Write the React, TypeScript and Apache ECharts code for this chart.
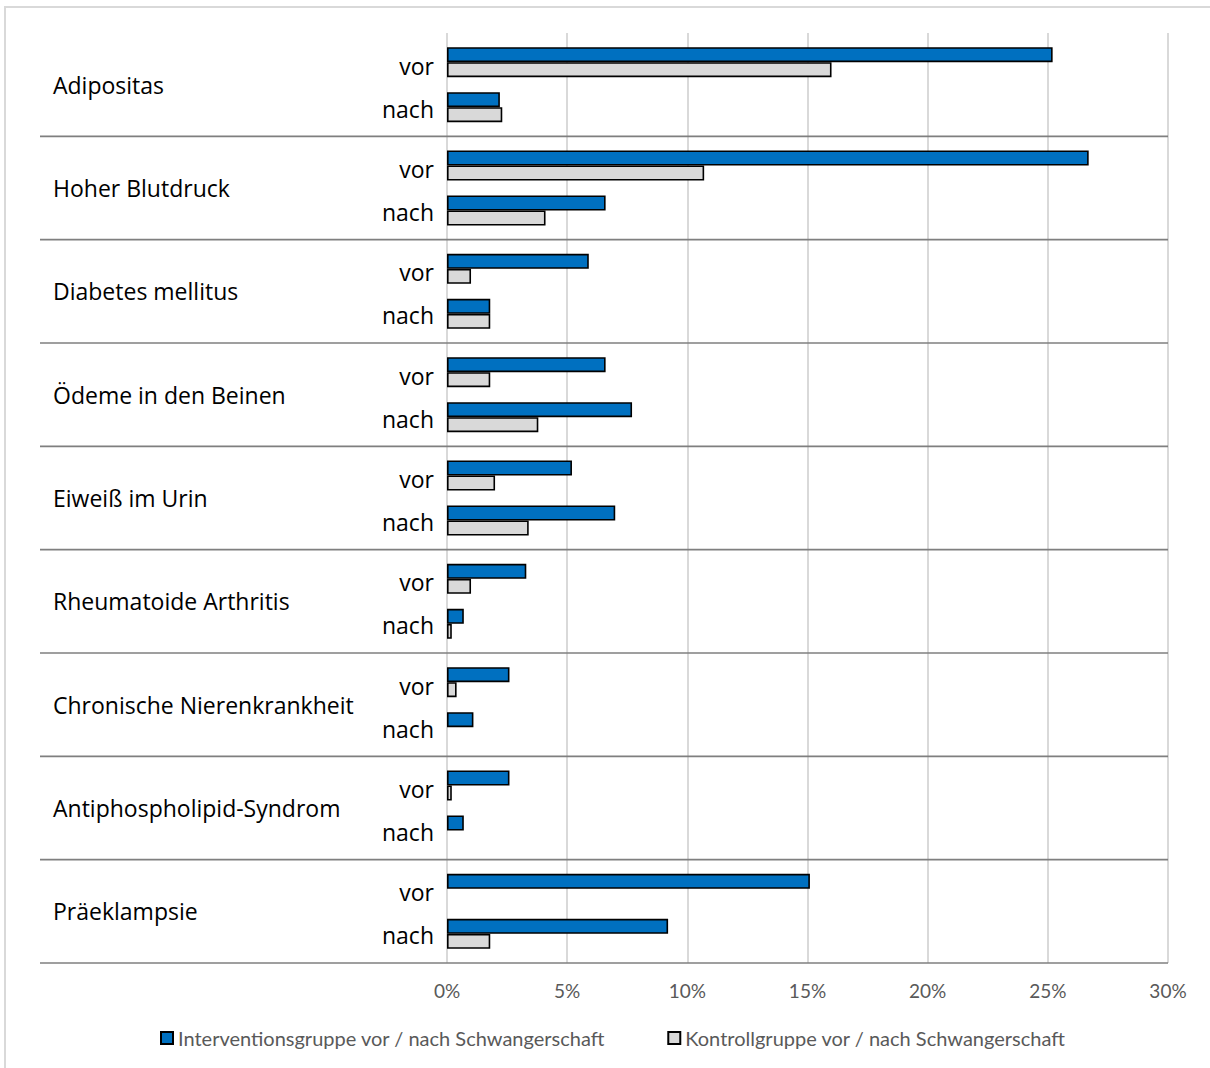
import React, { useEffect, useRef } from "react";
import * as echarts from "echarts";

const groups = [
  "Adipositas",
  "Hoher Blutdruck",
  "Diabetes mellitus",
  "Ödeme in den Beinen",
  "Eiweiß im Urin",
  "Rheumatoide Arthritis",
  "Chronische Nierenkrankheit",
  "Antiphospholipid-Syndrom",
  "Präeklampsie",
];
const phaseLabels = ["vor", "nach"];
// per group: intervention / control, before and after pregnancy (%)
const interventionVor = [25.2, 26.7, 5.9, 6.6, 5.2, 3.3, 2.6, 2.6, 15.1];
const kontrollVor = [16.0, 10.7, 1.0, 1.8, 2.0, 1.0, 0.4, 0.2, 0];
const interventionNach = [2.2, 6.6, 1.8, 7.7, 7.0, 0.7, 1.1, 0.7, 9.2];
const kontrollNach = [2.3, 4.1, 1.8, 3.8, 3.4, 0.2, 0, 0, 1.8];
const seriesNames = [
  "Interventionsgruppe vor / nach Schwangerschaft",
  "Kontrollgruppe vor / nach Schwangerschaft",
];
const xMin = 0;
const xMax = 30;
const xInterval = 5;

const FONT = "'Open Sans', 'Noto Sans', sans-serif";
const LEGEND_FONT = "Lato, 'Noto Sans', sans-serif";

const toItems = (arr: number[]) =>
  arr.map((v) => (v === 0 ? { value: 0, itemStyle: { borderWidth: 0 } } : v));

export default function App() {
  const ref = useRef<HTMLDivElement>(null);
  useEffect(() => {
    document.body.style.margin = "0";
    const chart = echarts.init(ref.current!, undefined, { renderer: "svg" });
    const blueStyle = { color: "#0070c0", borderColor: "#000000", borderWidth: 1.6 };
    const greyStyle = { color: "#d9d9d9", borderColor: "#000000", borderWidth: 1.6 };
    const phaseLabel = (text: string, dy: number) => ({
      show: true,
      position: "left",
      distance: 13,
      offset: [0, dy],
      formatter: () => text,
      color: "#000000",
      fontSize: 23,
      fontFamily: FONT,
    });
    const option: any = {
      animation: false,
      backgroundColor: "#ffffff",
      textStyle: { fontFamily: FONT },
      grid: { left: 447, right: 42, top: 33, height: 930, containLabel: false },
      legend: {
        left: 155,
        top: 1023,
        itemWidth: 12,
        itemHeight: 12,
        itemGap: 62,
        icon: "rect",
        textStyle: { fontSize: 20, color: "#595959", fontFamily: LEGEND_FONT },
        data: seriesNames,
      },
      xAxis: {
        type: "value",
        min: xMin,
        max: xMax,
        interval: xInterval,
        axisLine: { show: false },
        axisTick: { show: false },
        axisLabel: {
          formatter: (v: number) => v + "%",
          color: "#595959",
          fontSize: 19,
          fontFamily: LEGEND_FONT,
          margin: 18,
        },
        splitLine: { show: true, lineStyle: { color: "#d9d9d9", width: 2 } },
      },
      yAxis: {
        type: "category",
        inverse: true,
        data: groups,
        axisLine: { show: false },
        axisTick: { show: false },
        axisLabel: {
          align: "left",
          color: "#000000",
          fontSize: 23,
          fontFamily: FONT,
          margin: 394,
        },
      },
      series: [
        {
          name: seriesNames[0],
          type: "bar",
          data: toItems(interventionVor),
          barWidth: 15,
          barGap: "0%",
          itemStyle: blueStyle,
        },
        {
          name: seriesNames[1],
          type: "bar",
          data: toItems(kontrollVor),
          barWidth: 15,
          barGap: "0%",
          itemStyle: greyStyle,
          label: phaseLabel(phaseLabels[0], -4),
        },
        {
          name: "spacer",
          type: "bar",
          data: [],
          barWidth: 15,
          barGap: "0%",
        },
        {
          name: seriesNames[0],
          type: "bar",
          data: toItems(interventionNach),
          barWidth: 15,
          barGap: "0%",
          itemStyle: blueStyle,
        },
        {
          name: seriesNames[1],
          type: "bar",
          data: toItems(kontrollNach),
          barWidth: 15,
          barGap: "0%",
          itemStyle: greyStyle,
          label: phaseLabel(phaseLabels[1], -6),
        },
      ],
    };
    chart.setOption(option);

    // group separators at the category band boundaries
    const c0 = chart.convertToPixel({ yAxisIndex: 0 }, groups[0]) as number;
    const c1 = chart.convertToPixel({ yAxisIndex: 0 }, groups[1]) as number;
    const half = (c1 - c0) / 2;
    const xRight = chart.convertToPixel({ xAxisIndex: 0 }, xMax) as number;
    const gfx: any[] = [];
    for (let g = 0; g < groups.length; g++) {
      const cy = chart.convertToPixel({ yAxisIndex: 0 }, groups[g]) as number;
      const y = cy + half;
      gfx.push({
        type: "line",
        shape: { x1: 40, y1: y, x2: xRight, y2: y },
        style: { stroke: "#7f7f7f", lineWidth: 1.6 },
        z: 10,
      });
    }
    gfx.push({
      type: "rect",
      shape: { x: 5, y: 7, width: 1220, height: 1080 },
      style: { fill: "none", stroke: "#d9d9d9", lineWidth: 2 },
      silent: true,
    });
    chart.setOption({ graphic: gfx });
    return () => chart.dispose();
  }, []);
  return (
    <div
      ref={ref}
      style={{ position: "absolute", left: 0, top: 0, width: 1210, height: 1068 }}
    />
  );
}
